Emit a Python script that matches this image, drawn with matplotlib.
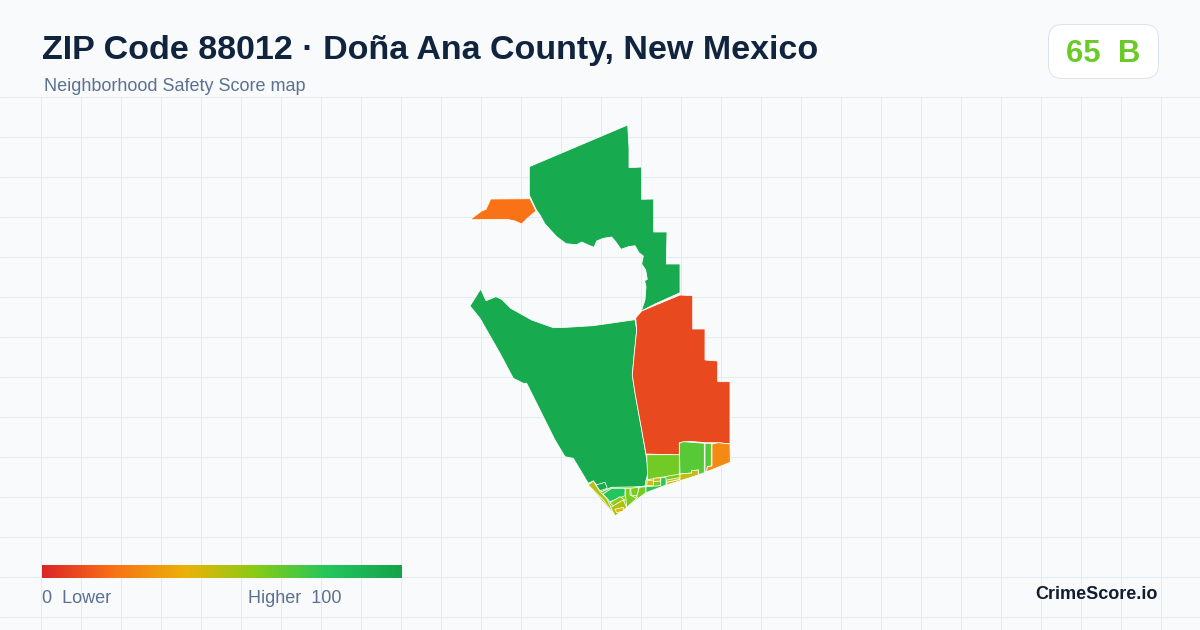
#!/usr/bin/env python

import matplotlib
matplotlib.use("Agg")
import matplotlib.pyplot as plt
from matplotlib.colors import LinearSegmentedColormap
from matplotlib.patches import FancyBboxPatch
import numpy as np

plt.rcParams['font.family'] = ['Liberation Sans', 'DejaVu Sans']

title = "ZIP Code 88012 · Doña Ana County, New Mexico"
subtitle = "Neighborhood Safety Score map"
overall_score = "65  B"

# colour ramp of the score legend
ramp_stops = [0, 0.2, 0.4, 0.6, 0.8, 1]
ramp_colors = ["#dc2626", "#f97316", "#eab308", "#84cc16", "#22c55e", "#16a34a"]

# tract outlines (x, y in image pixels)
north = [(529.3,166.7),(627.7,125),(629,148),(629,167.7),(641.7,167),(641.7,199.3),(653.7,199),(653.7,232),(667,232),
         (666.3,264),(680,264),(680,292.7),(655,304),(641.3,311),(645,300),(646,286.7),(644.7,280.7),(647.3,279.3),
         (645.7,270),(641.7,264),(643.3,256),(639,252.7),(635,245.7),(628.3,246.7),(621,249.3),(615.7,241.7),
         (611.7,237),(603.3,238.3),(596.7,241),(594,247.3),(588.3,245),(581.7,242),(576.7,244.7),(566,243.7),
         (556.7,236.7),(545,224),(540,215),(536,209.3),(529.3,195)]
northwest = [(490.7,199),(530,198.7),(536,211),(527.3,218.3),(521.7,224),(515,221),(506.7,219.3),(470,219.7),
             (481.7,211),(486,209.3)]
west = [(470,306),(480.7,289),(486,300.7),(496,296.7),(501.7,299.3),(510.7,308.3),(531.7,320),(553.3,327.7),
        (566.7,327.3),(593,325.7),(635,319.7),(636.7,330),(634,356.7),(632.3,375),(635,393),(641.7,430),(646,455),
        (648.3,470),(647.7,473),(645,486),(625,488.3),(611.7,487.3),(601.7,491.7),(593.3,481),(588.3,483.3),
        (573.3,458.3),(565,456.7),(555,440),(526.7,383.3),(523.3,383.3),(513.3,378.3),(500,353.3),(480,318.3)]
east = [(680,295),(692.7,295.7),(692.7,329),(705,329),(705,360),(717.7,361),(717.7,381.7),(730,381.7),(730,444),
        (718.3,442.7),(705,442.7),(690,441.3),(679.3,442.7),(679.3,455),(646,454),(641.7,430),(635,393),(632.3,375),
        (634,356.7),(636.7,330),(635.7,318),(641.7,311),(660,303.3)]
south_a = [(646.7,454.7),(679.3,454.7),(679.3,476.7),(666,477.7),(660.7,477.3),(660.7,480),(653.3,479.3),(647.7,480)]
south_b = [(679.3,443.3),(683.3,441.7),(691.7,442.3),(704.3,443.3),(704.3,472.7),(698.3,474.7),(698.3,470),
           (691.7,470.7),(691.7,473),(680,474)]
south_c = [(705,443.3),(711.3,443.3),(711.3,466),(707.3,466.7),(706.7,471.7),(705,471.7)]
southeast = [(712,444),(718.3,442.7),(730,444),(730.3,462.3),(706.7,471.7),(707.3,466.7),(712,466)]
strip = [(666.7,485),(666.7,482.3),(680,479.3),(680,474),(691.7,473),(691.7,470.7),(698.3,470),(698.3,475)]
# filler under the small tracts at the southern tip and along the coast
tip_base = [(593.3,481),(601.7,491.7),(611.7,487.3),(646,486.7),(646,492.7),(615,516),(588.3,485)]
coast_base = [(646,480),(680,474),(680,479.3),(666.7,485),(646,492.7)]
tip_a = [(588.3,485),(593.3,481),(600,491.7),(606.7,498.3),(615,516),(609.3,508.3),(603.3,500)]
tip_b = [(596,485),(605,482.3),(607.3,488.3),(600,490.7)]
tip_c = [(603,494),(611.7,488.3),(625,488.3),(625,495.7),(610,501.7)]
tip_d = [(625.7,488.3),(630,488.3),(630,495),(636.7,498.3),(626.7,507.5),(625.7,497)]
tip_e = [(630.7,488.3),(638.3,487.3),(638.3,491.7),(636.7,496),(631.3,495)]
tip_f = [(639.3,487.3),(646,486.7),(646,492.7),(638.3,498.3),(636.7,496.7)]
tip_g = [(610,502.7),(620,496.7),(625,500),(613.3,506)]
tip_h = [(610.7,507.3),(623.3,500),(626.7,507.5),(615,516)]
tip_i = [(615,509.3),(623.3,507.3),(623.3,511),(616.7,512.7)]
coast_a = [(646,486.7),(660.7,485.7),(660.7,477.7),(666,477.7),(666,485),(646,492.7)]
coast_b = [(647.3,480.7),(653.3,480),(653.3,485.7),(646.7,485.7)]
coast_c = [(653.3,478.3),(660.7,477.7),(660.7,481),(653.3,481.7)]
coast_d = [(666.7,480),(679.3,477.7),(680,479.3),(666.7,482.3)]

tracts = [north, northwest, west, east, south_a, south_b, south_c, southeast, tip_base, coast_base, strip, tip_a, tip_b,
          tip_c, tip_d, tip_e, tip_f, tip_g, tip_h, tip_i, coast_a, coast_b, coast_c, coast_d]
scores = [96, 20, 96, 9, 64, 69, 69, 27, 62, 62, 48, 50, 96, 80, 62, 62, 63, 58, 52, 43, 78, 45, 45, 46]

ramp = LinearSegmentedColormap.from_list("safety", list(zip(ramp_stops, ramp_colors)))

fig = plt.figure(figsize=(12, 6.3), dpi=100, facecolor="#f8fafc")
ax = fig.add_axes([0, 0, 1, 1])
ax.set_xlim(0, 1200)
ax.set_ylim(630, 0)
ax.axis("off")

# background grid below the header
ax.vlines(np.arange(40.5, 1200, 40), 96, 630, color="#e1ebf0", lw=0.72, zorder=1)
ax.hlines(np.arange(96.5, 630, 40), 0, 1200, color="#e1ebf0", lw=0.72, zorder=1)

for tract, score in zip(tracts, scores):
    xs, ys = zip(*tract)
    ax.fill(xs, ys, facecolor=ramp(score / 100), edgecolor="white", lw=0.55, joinstyle="round", zorder=2)

# header
ax.text(42, 59.5, title, fontsize=24.45, fontweight="bold", color="#10243e", va="baseline", ha="left", zorder=5)
ax.text(44, 91, subtitle, fontsize=12.95, color="#5b7190", va="baseline", ha="left", zorder=5)

badge = FancyBboxPatch((1048.5, 24.5), 110, 54, boxstyle="round,pad=0,rounding_size=14",
                       facecolor="white", edgecolor="#dde3ec", lw=0.72, zorder=4)
ax.add_patch(badge)
ax.text(1103, 61.7, overall_score, fontsize=22.4, fontweight="bold", color="#6bca28", va="baseline", ha="center",
        zorder=5)

# legend
gradient = np.linspace(0, 1, 360).reshape(1, -1)
ax.imshow(gradient, cmap=ramp, extent=(42, 402, 578, 565), aspect="auto", zorder=3)
ax.set_xlim(0, 1200)
ax.set_ylim(630, 0)
ax.text(42, 602.7, "0  Lower", fontsize=12.95, color="#5b7190", va="baseline", ha="left", zorder=5)
ax.text(342, 602.7, "Higher  100", fontsize=12.95, color="#5b7190", va="baseline", ha="right", zorder=5)
ax.text(1158, 599, "CrimeScore.io", fontsize=13, fontweight="bold", color="#111d2e", va="baseline", ha="right", zorder=5)

fig.savefig("out.png", dpi=100, facecolor=fig.get_facecolor())
